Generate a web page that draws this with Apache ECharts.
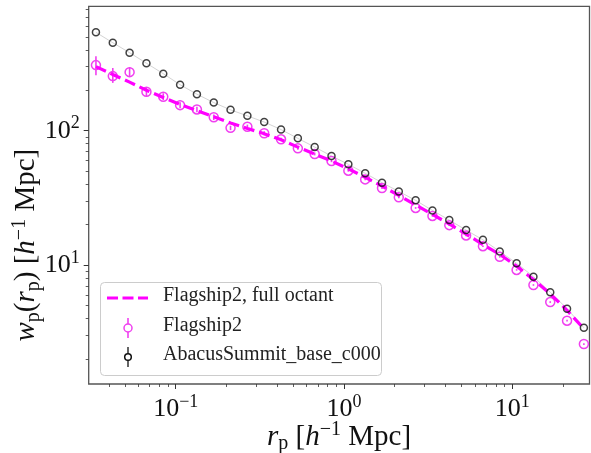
<!DOCTYPE html>
<html><head><meta charset="utf-8">
<script src="https://cdn.jsdelivr.net/npm/echarts@6/dist/echarts.min.js"></script>
<style>html,body{margin:0;padding:0;background:#fff}#c{width:591px;height:453px}</style>
</head><body><div id="c"></div><script>
// ---- data ----
const rp = [0.03357,0.04227,0.05321,0.06699,0.08433,0.1062,0.1337,0.1683,0.2118,0.2667,
            0.3357,0.4227,0.5321,0.6699,0.8433,1.062,1.337,1.683,2.118,2.667,
            3.357,4.227,5.321,6.699,8.433,10.62,13.37,16.83,21.18,26.67];
const wpAbacus = [540,452,381,318,266,220,187,162,143,129,
                  116,102,87.7,75.6,64.8,56.2,48.2,41.0,35.3,30.3,
                  25.5,21.6,18.2,15.4,12.6,10.3,8.19,6.27,4.73,3.41];
const wpFlagship = [308,255,273,195,179,155,144,126,105,107,
                    95.7,86.3,73.9,67.1,59.5,50.4,43.4,37.4,31.9,26.6,
                    23.2,19.8,16.6,13.8,11.5,9.19,7.10,5.30,3.85,2.58];
const wpFlagLo = [259,227,251,180,169,147,137,120,101,103,
                  92.5,83.8,72,65.5,58.3,49.5,42.7,36.8,31.4,26.2,
                  22.9,19.5,16.4,13.6,11.35,9.07,7.0,5.22,3.79,2.54];
const wpFlagHi = [359,293,298,210,190,163,151,132,109,111,
                  99,88.8,75.8,68.7,60.7,51.3,44.1,38,32.4,27,
                  23.5,20.1,16.8,14,11.65,9.31,7.2,5.38,3.91,2.62];
const wpOctant = [300,262,230,200,177,157,141,127,114,104,
                  95,85.5,75.5,67,59.5,52,45,38.7,33,28,
                  23.8,20.2,17,14.2,12,9.8,7.8,6.1,4.6,3.35];
const xMajorTicks = [0.1, 1, 10];
const xMinorTicks = [0.04,0.05,0.06,0.07,0.08,0.09,0.2,0.3,0.4,0.5,0.6,0.7,0.8,0.9,
                     2,3,4,5,6,7,8,9,20];
const yMajorTicks = [10, 100];
const yMinorTicks = [2,3,4,5,6,7,8,9,20,30,40,50,60,70,80,90,200,300,400,500,600,700,800];
const xRange = [0.0304, 28.8];
const yRange = [1.30, 844];
const legendNames = ['Flagship2, full octant', 'Flagship2', 'AbacusSummit_base_c000'];

// ---- chart ----
const FONT = 'Liberation Serif';
const MAG = '#ff00ff';
const MAGPT = '#f040f0';
const chart = echarts.init(document.getElementById('c'), null, {renderer:'canvas'});
const sup = e => (e < 0 ? '−' + (-e) : '' + e);
const tickFmt = v => { const e = Math.round(Math.log10(v)); return '{b|10}{s|' + sup(e) + '}'; };
const tickRich = {
  b: {fontFamily: FONT, fontSize: 26, lineHeight: 32, color: '#111'},
  s: {fontFamily: FONT, fontSize: 18, lineHeight: 18, verticalAlign: 'top', color: '#111'}
};
const nameRich = {
  i: {fontFamily: FONT, fontSize: 29, fontStyle: 'italic', lineHeight: 34, color: '#111'},
  n: {fontFamily: FONT, fontSize: 29, lineHeight: 34, color: '#111'},
  sub: {fontFamily: FONT, fontSize: 20, lineHeight: 20, verticalAlign: 'bottom', color: '#111'},
  supn: {fontFamily: FONT, fontSize: 20, lineHeight: 20, verticalAlign: 'top', color: '#111'}
};
const pair = (xs, ys) => xs.map((x, i) => [x, ys[i]]);
const baseAxis = (range) => ({type: 'log', logBase: 10, min: range[0], max: range[1],
  splitLine: {show: false}, axisLine: {show: false}});

const option = {
  animation: false,
  backgroundColor: '#fff',
  grid: {left: 88.7, top: 6.3, right: 1.5, bottom: 69, containLabel: false, outerBoundsMode: 'none',
         show: true, borderColor: '#555', borderWidth: 1.3, backgroundColor: 'transparent'},
  xAxis: [
    Object.assign(baseAxis(xRange), {
      position: 'bottom',
      axisTick: {show: true, inside: false, length: 5, customValues: xMajorTicks, lineStyle: {color: '#333', width: 1}},
      axisLabel: {customValues: xMajorTicks, formatter: tickFmt, rich: tickRich, margin: 9},
      name: '{i|r}{sub|p}{n| [}{i|h}{supn|−1}{n| Mpc]}',
      nameLocation: 'middle', nameGap: 36, nameMoveOverlap: false, nameTextStyle: {rich: nameRich}
    }),
    Object.assign(baseAxis(xRange), {
      position: 'bottom', offset: 0,
      axisTick: {show: true, inside: false, length: 3, customValues: xMinorTicks, lineStyle: {color: '#333', width: 0.8}},
      axisLabel: {show: false}
    })
  ],
  yAxis: [
    Object.assign(baseAxis(yRange), {
      position: 'left',
      axisTick: {show: true, inside: false, length: 5, customValues: yMajorTicks, lineStyle: {color: '#333', width: 1}},
      axisLabel: {customValues: yMajorTicks, formatter: tickFmt, rich: tickRich, margin: 9},
      name: '{i|w}{sub|p}{n|(}{i|r}{sub|p}{n|) [}{i|h}{supn|−1}{n| Mpc]}',
      nameLocation: 'middle', nameGap: 45, nameRotate: 90, nameMoveOverlap: false,
      nameTextStyle: {rich: nameRich, padding: [0, 100, 0, 0]}
    }),
    Object.assign(baseAxis(yRange), {
      position: 'left', offset: 0,
      axisTick: {show: true, inside: false, length: 3, customValues: yMinorTicks, lineStyle: {color: '#333', width: 0.8}},
      axisLabel: {show: false}
    })
  ],
  series: [
    {name: legendNames[2] + ' line', type: 'line', data: pair(rp, wpAbacus), symbol: 'none',
     lineStyle: {color: '#d4d4d4', width: 1}, z: 1, silent: true},
    {name: legendNames[0], type: 'line', data: pair(rp, wpOctant), symbol: 'none',
     lineStyle: {color: MAG, width: 3.2, type: [11, 5]}, z: 3},
    {name: legendNames[1] + ' err', type: 'custom', data: rp.map((x, i) => [x, wpFlagLo[i], wpFlagHi[i]]),
     encode: {x: 0, y: [1, 2]}, z: 2,
     renderItem: (params, api) => {
       const a = api.coord([api.value(0), api.value(1)]);
       const b = api.coord([api.value(0), api.value(2)]);
       return {type: 'line', shape: {x1: a[0], y1: a[1], x2: b[0], y2: b[1]}, style: {stroke: MAGPT, lineWidth: 1.6}};
     }},
    {name: legendNames[1], type: 'scatter', data: pair(rp, wpFlagship), symbol: 'circle', symbolSize: 9,
     itemStyle: {color: 'transparent', borderColor: MAGPT, borderWidth: 1.5, opacity: 1}, z: 2},
    {name: legendNames[2], type: 'scatter', data: pair(rp, wpAbacus), symbol: 'circle', symbolSize: 7,
     itemStyle: {color: 'transparent', borderColor: '#111', borderWidth: 1.5}, z: 4}
  ],
  graphic: [
    {type: 'rect', left: 100, top: 282, shape: {width: 281, height: 93, r: 4}, z: 10,
     style: {fill: 'rgba(255,255,255,0.85)', stroke: '#cccccc', lineWidth: 1}},
    {type: 'line', z: 11, shape: {x1: 107, y1: 298, x2: 148, y2: 298}, style: {stroke: MAG, lineWidth: 3.2, lineDash: [11, 4.5]}},
    {type: 'line', z: 11, shape: {x1: 128, y1: 318, x2: 128, y2: 338}, style: {stroke: MAGPT, lineWidth: 1.6}},
    {type: 'circle', z: 11, shape: {cx: 128, cy: 328, r: 4}, style: {fill: '#fff', stroke: MAGPT, lineWidth: 1.5}},
    {type: 'line', z: 11, shape: {x1: 128, y1: 347, x2: 128, y2: 367}, style: {stroke: '#111', lineWidth: 1.3}},
    {type: 'circle', z: 11, shape: {cx: 128, cy: 357, r: 3.3}, style: {fill: '#fff', stroke: '#111', lineWidth: 1.5}},
    {type: 'text', z: 11, left: 163, top: 286, style: {text: legendNames[0], font: '20px "Liberation Serif"', fill: '#222'}},
    {type: 'text', z: 11, left: 163, top: 316, style: {text: legendNames[1], font: '20px "Liberation Serif"', fill: '#222'}},
    {type: 'text', z: 11, left: 163, top: 345, style: {text: legendNames[2], font: '20px "Liberation Serif"', fill: '#222'}}
  ]
};
chart.setOption(option);
</script></body></html>
